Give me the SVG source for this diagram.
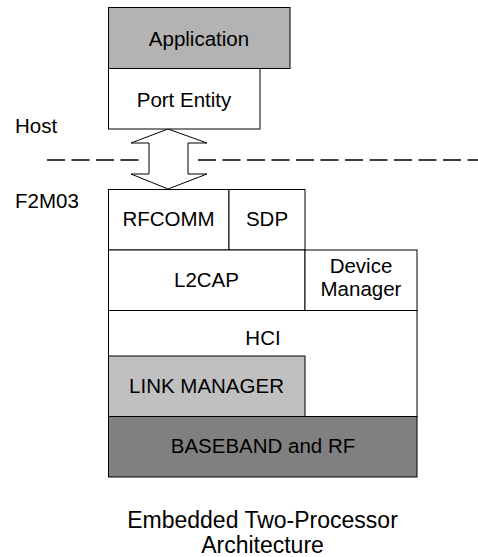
<svg xmlns="http://www.w3.org/2000/svg" width="478" height="557" viewBox="0 0 478 557">
<style>
.box{stroke:#000;stroke-width:1}
.t{font-family:"Liberation Sans",Arial,sans-serif;font-size:20.5px;fill:#000;text-anchor:middle}
.l{font-family:"Liberation Sans",Arial,sans-serif;font-size:20.5px;fill:#000}
.cap{font-family:"Liberation Sans",Arial,sans-serif;font-size:23px;fill:#000;text-anchor:middle}
.dash{stroke:#000;stroke-width:1.6;stroke-dasharray:18 6.5;fill:none}
</style>
<rect width="478" height="557" fill="#fff"/>
<g id="labels">
<text class="l" x="15" y="133">Host</text>
<text class="l" x="15" y="208">F2M03</text>
</g>
<g id="connectors">
<line class="dash" x1="47" y1="160" x2="140" y2="160"/>
<line class="dash" x1="198" y1="160" x2="478" y2="160"/>
<polygon points="168,129 207,143 188,143 188,174 207,174 168,189 131,174 149,174 149,143 131,143" fill="#fff" stroke="#000" stroke-width="1"/>
</g>
<g id="application">
<rect class="box" x="108.5" y="7.5" width="181.5" height="61" fill="#b3b3b3"/>
<text class="t" x="199" y="46">Application</text>
</g>
<g id="port-entity">
<rect class="box" x="108.5" y="68.5" width="151.5" height="60.5" fill="#fff"/>
<text class="t" x="184" y="107">Port Entity</text>
</g>
<g id="rfcomm">
<rect class="box" x="108.5" y="189.5" width="120.5" height="60.5" fill="#fff"/>
<text class="t" x="168.5" y="226">RFCOMM</text>
</g>
<g id="sdp">
<rect class="box" x="229" y="189.5" width="76" height="60.5" fill="#fff"/>
<text class="t" x="267" y="226">SDP</text>
</g>
<g id="l2cap">
<rect class="box" x="108.5" y="250" width="196.5" height="60.5" fill="#fff"/>
<text class="t" x="206.5" y="287">L2CAP</text>
</g>
<g id="device-manager">
<rect class="box" x="305" y="250" width="112" height="60.5" fill="#fff"/>
<text class="t" x="361" y="273">Device</text>
<text class="t" x="361" y="296">Manager</text>
</g>
<g id="hci">
<rect class="box" x="108.5" y="310.5" width="308.5" height="106" fill="#fff"/>
<text class="t" x="263" y="345">HCI</text>
</g>
<g id="link-manager">
<rect class="box" x="108.5" y="356" width="196.5" height="60.5" fill="#c0c0c0"/>
<text class="t" x="206.5" y="393">LINK MANAGER</text>
</g>
<g id="baseband">
<rect class="box" x="108.5" y="416.5" width="308.5" height="60.5" fill="#808080"/>
<text class="t" x="263" y="453">BASEBAND and RF</text>
</g>
<g id="caption">
<text class="cap" x="262.5" y="528">Embedded Two-Processor</text>
<text class="cap" x="262.5" y="553">Architecture</text>
</g>
</svg>
